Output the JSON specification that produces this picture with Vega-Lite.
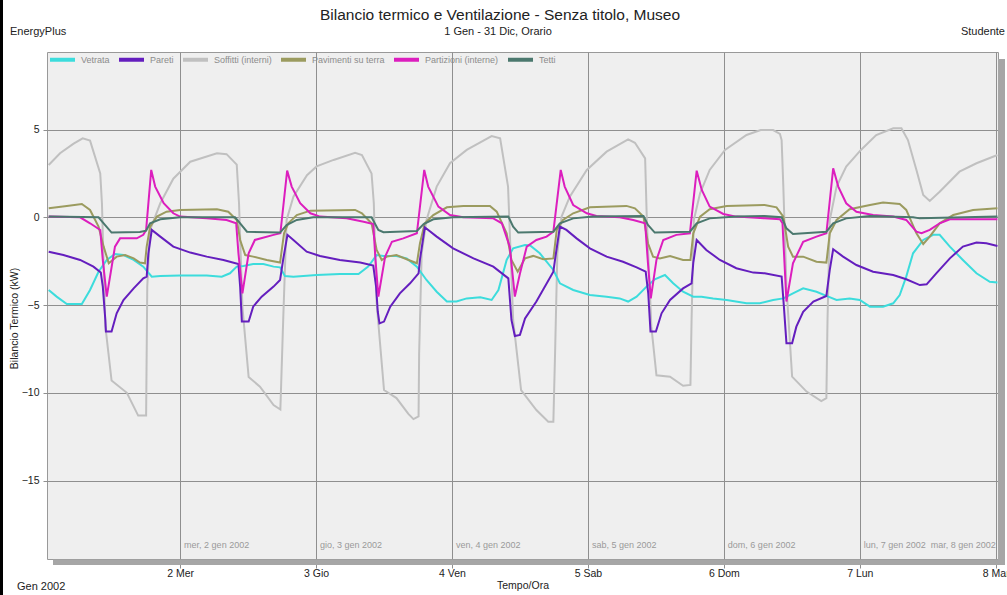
{
"$schema": "https://vega.github.io/schema/vega-lite/v6.json",
"width": 951,
"height": 507,
"autosize": {"type": "none"},
"padding": {"left": 47, "top": 52, "right": 9, "bottom": 36},
"background": "white",
"config": {
  "font": "Liberation Sans",
  "view": {"fill": "#efefef", "stroke": "#999999", "strokeWidth": 1}
},
"datasets": {
"lines": [
{"s":"Soffitti (interni)","h":0.8,"v":2.98},{"s":"Soffitti (interni)","h":2.8,"v":3.65},{"s":"Soffitti (interni)","h":5.2,"v":4.2},{"s":"Soffitti (interni)","h":6.8,"v":4.5},{"s":"Soffitti (interni)","h":8.1,"v":4.37},{"s":"Soffitti (interni)","h":9.9,"v":2.5},{"s":"Soffitti (interni)","h":10.2,"v":0.8},{"s":"Soffitti (interni)","h":10.8,"v":-6.2},{"s":"Soffitti (interni)","h":11.9,"v":-9.3},{"s":"Soffitti (interni)","h":14.6,"v":-10.0},{"s":"Soffitti (interni)","h":16.6,"v":-11.3},{"s":"Soffitti (interni)","h":18.0,"v":-11.3},{"s":"Soffitti (interni)","h":18.2,"v":-3.95},{"s":"Soffitti (interni)","h":18.7,"v":-0.72},{"s":"Soffitti (interni)","h":20.5,"v":0.8},{"s":"Soffitti (interni)","h":22.8,"v":2.2},{"s":"Soffitti (interni)","h":25.8,"v":3.17},{"s":"Soffitti (interni)","h":30.5,"v":3.65},{"s":"Soffitti (interni)","h":32.2,"v":3.6},{"s":"Soffitti (interni)","h":34.0,"v":3.0},{"s":"Soffitti (interni)","h":34.4,"v":0.8},{"s":"Soffitti (interni)","h":35.0,"v":-5.1},{"s":"Soffitti (interni)","h":36.1,"v":-9.1},{"s":"Soffitti (interni)","h":38.1,"v":-9.65},{"s":"Soffitti (interni)","h":40.5,"v":-10.7},{"s":"Soffitti (interni)","h":41.7,"v":-10.95},{"s":"Soffitti (interni)","h":42.2,"v":-5.85},{"s":"Soffitti (interni)","h":42.8,"v":-0.15},{"s":"Soffitti (interni)","h":44,"v":1.18},{"s":"Soffitti (interni)","h":46.4,"v":2.4},{"s":"Soffitti (interni)","h":48.1,"v":2.9},{"s":"Soffitti (interni)","h":51.1,"v":3.27},{"s":"Soffitti (interni)","h":54.9,"v":3.68},{"s":"Soffitti (interni)","h":56.1,"v":3.55},{"s":"Soffitti (interni)","h":57.8,"v":2.5},{"s":"Soffitti (interni)","h":58.2,"v":0.8},{"s":"Soffitti (interni)","h":58.7,"v":-4.9},{"s":"Soffitti (interni)","h":60,"v":-9.84},{"s":"Soffitti (interni)","h":62.2,"v":-10.3},{"s":"Soffitti (interni)","h":64.3,"v":-11.2},{"s":"Soffitti (interni)","h":65.2,"v":-11.5},{"s":"Soffitti (interni)","h":66.1,"v":-11.35},{"s":"Soffitti (interni)","h":66.2,"v":-7.75},{"s":"Soffitti (interni)","h":66.65,"v":-2.05},{"s":"Soffitti (interni)","h":67.5,"v":-0.15},{"s":"Soffitti (interni)","h":69.3,"v":1.75},{"s":"Soffitti (interni)","h":71.65,"v":3.08},{"s":"Soffitti (interni)","h":74.6,"v":3.84},{"s":"Soffitti (interni)","h":79,"v":4.63},{"s":"Soffitti (interni)","h":80.5,"v":4.5},{"s":"Soffitti (interni)","h":81.9,"v":1.75},{"s":"Soffitti (interni)","h":82.8,"v":-5.85},{"s":"Soffitti (interni)","h":84.2,"v":-9.84},{"s":"Soffitti (interni)","h":86.9,"v":-10.98},{"s":"Soffitti (interni)","h":89,"v":-11.65},{"s":"Soffitti (interni)","h":89.9,"v":-11.65},{"s":"Soffitti (interni)","h":90.2,"v":-7.75},{"s":"Soffitti (interni)","h":90.6,"v":-2.05},{"s":"Soffitti (interni)","h":91.35,"v":0.04},{"s":"Soffitti (interni)","h":92.8,"v":1.18},{"s":"Soffitti (interni)","h":95.8,"v":2.7},{"s":"Soffitti (interni)","h":99.3,"v":3.74},{"s":"Soffitti (interni)","h":103.1,"v":4.44},{"s":"Soffitti (interni)","h":104.3,"v":4.25},{"s":"Soffitti (interni)","h":106.1,"v":3.36},{"s":"Soffitti (interni)","h":106.4,"v":-0.15},{"s":"Soffitti (interni)","h":107.2,"v":-6.23},{"s":"Soffitti (interni)","h":108.1,"v":-9.0},{"s":"Soffitti (interni)","h":110.5,"v":-9.08},{"s":"Soffitti (interni)","h":112.8,"v":-9.6},{"s":"Soffitti (interni)","h":114.1,"v":-9.55},{"s":"Soffitti (interni)","h":114.3,"v":-5.85},{"s":"Soffitti (interni)","h":114.7,"v":-0.15},{"s":"Soffitti (interni)","h":115.8,"v":1.37},{"s":"Soffitti (interni)","h":117.5,"v":2.7},{"s":"Soffitti (interni)","h":120.2,"v":3.84},{"s":"Soffitti (interni)","h":124,"v":4.69},{"s":"Soffitti (interni)","h":126.5,"v":4.97},{"s":"Soffitti (interni)","h":128.7,"v":4.97},{"s":"Soffitti (interni)","h":129.9,"v":4.75},{"s":"Soffitti (interni)","h":130.2,"v":4.4},{"s":"Soffitti (interni)","h":130.5,"v":1.75},{"s":"Soffitti (interni)","h":131.05,"v":-3.95},{"s":"Soffitti (interni)","h":132.05,"v":-9.08},{"s":"Soffitti (interni)","h":134.6,"v":-9.93},{"s":"Soffitti (interni)","h":137.2,"v":-10.47},{"s":"Soffitti (interni)","h":138.1,"v":-10.3},{"s":"Soffitti (interni)","h":138.3,"v":-5.85},{"s":"Soffitti (interni)","h":138.7,"v":-0.15},{"s":"Soffitti (interni)","h":139.9,"v":1.75},{"s":"Soffitti (interni)","h":141.6,"v":2.89},{"s":"Soffitti (interni)","h":144.2,"v":3.84},{"s":"Soffitti (interni)","h":146.9,"v":4.69},{"s":"Soffitti (interni)","h":149.9,"v":5.07},{"s":"Soffitti (interni)","h":151.35,"v":5.07},{"s":"Soffitti (interni)","h":152.5,"v":4.4},{"s":"Soffitti (interni)","h":154,"v":2.7},{"s":"Soffitti (interni)","h":155.2,"v":1.27},{"s":"Soffitti (interni)","h":156.35,"v":0.93},{"s":"Soffitti (interni)","h":158.1,"v":1.46},{"s":"Soffitti (interni)","h":161.6,"v":2.6},{"s":"Soffitti (interni)","h":164.6,"v":3.08},{"s":"Soffitti (interni)","h":168.3,"v":3.55},

{"s":"Vetrata","h":0.8,"v":-4.14},{"s":"Vetrata","h":2.2,"v":-4.52},{"s":"Vetrata","h":4,"v":-4.94},{"s":"Vetrata","h":6.65,"v":-4.94},{"s":"Vetrata","h":8.1,"v":-4.14},{"s":"Vetrata","h":9.6,"v":-3.1},{"s":"Vetrata","h":11.05,"v":-2.43},{"s":"Vetrata","h":12.5,"v":-2.09},{"s":"Vetrata","h":14,"v":-2.15},{"s":"Vetrata","h":15.8,"v":-2.43},{"s":"Vetrata","h":17.5,"v":-2.81},{"s":"Vetrata","h":19,"v":-3.38},{"s":"Vetrata","h":20.5,"v":-3.34},{"s":"Vetrata","h":24,"v":-3.32},{"s":"Vetrata","h":28.7,"v":-3.32},{"s":"Vetrata","h":31.35,"v":-3.38},{"s":"Vetrata","h":32.8,"v":-3.19},{"s":"Vetrata","h":34,"v":-2.81},{"s":"Vetrata","h":35.2,"v":-2.77},{"s":"Vetrata","h":36.9,"v":-2.66},{"s":"Vetrata","h":38.7,"v":-2.66},{"s":"Vetrata","h":40.5,"v":-2.81},{"s":"Vetrata","h":41.65,"v":-2.85},{"s":"Vetrata","h":42.5,"v":-3.34},{"s":"Vetrata","h":44,"v":-3.38},{"s":"Vetrata","h":48.1,"v":-3.29},{"s":"Vetrata","h":52.2,"v":-3.23},{"s":"Vetrata","h":55.5,"v":-3.23},{"s":"Vetrata","h":57.2,"v":-2.81},{"s":"Vetrata","h":58.7,"v":-2.15},{"s":"Vetrata","h":59.9,"v":-2.2},{"s":"Vetrata","h":62.2,"v":-2.2},{"s":"Vetrata","h":64,"v":-2.34},{"s":"Vetrata","h":65.8,"v":-2.81},{"s":"Vetrata","h":67.5,"v":-3.57},{"s":"Vetrata","h":69.3,"v":-4.24},{"s":"Vetrata","h":71.1,"v":-4.8},{"s":"Vetrata","h":72.8,"v":-4.8},{"s":"Vetrata","h":74.6,"v":-4.62},{"s":"Vetrata","h":77,"v":-4.56},{"s":"Vetrata","h":79,"v":-4.71},{"s":"Vetrata","h":80.2,"v":-4.14},{"s":"Vetrata","h":81.65,"v":-2.43},{"s":"Vetrata","h":82.8,"v":-1.77},{"s":"Vetrata","h":84.9,"v":-1.58},{"s":"Vetrata","h":85.8,"v":-1.6},{"s":"Vetrata","h":87.5,"v":-2.05},{"s":"Vetrata","h":89.9,"v":-3.0},{"s":"Vetrata","h":91.05,"v":-3.76},{"s":"Vetrata","h":93.4,"v":-4.14},{"s":"Vetrata","h":96.35,"v":-4.43},{"s":"Vetrata","h":99.3,"v":-4.52},{"s":"Vetrata","h":101.6,"v":-4.62},{"s":"Vetrata","h":103.1,"v":-4.8},{"s":"Vetrata","h":104.6,"v":-4.52},{"s":"Vetrata","h":106.35,"v":-3.95},{"s":"Vetrata","h":107.8,"v":-3.53},{"s":"Vetrata","h":109.6,"v":-3.29},{"s":"Vetrata","h":111.05,"v":-3.76},{"s":"Vetrata","h":112.8,"v":-4.24},{"s":"Vetrata","h":114.6,"v":-4.52},{"s":"Vetrata","h":116.05,"v":-4.52},{"s":"Vetrata","h":118.1,"v":-4.62},{"s":"Vetrata","h":120.5,"v":-4.71},{"s":"Vetrata","h":124,"v":-4.9},{"s":"Vetrata","h":126.35,"v":-4.9},{"s":"Vetrata","h":128.7,"v":-4.71},{"s":"Vetrata","h":130.5,"v":-4.62},{"s":"Vetrata","h":132.2,"v":-4.33},{"s":"Vetrata","h":134,"v":-4.05},{"s":"Vetrata","h":136.35,"v":-4.24},{"s":"Vetrata","h":138.1,"v":-4.48},{"s":"Vetrata","h":139.9,"v":-4.71},{"s":"Vetrata","h":142.2,"v":-4.62},{"s":"Vetrata","h":144,"v":-4.71},{"s":"Vetrata","h":145.8,"v":-5.09},{"s":"Vetrata","h":148.1,"v":-5.09},{"s":"Vetrata","h":149.9,"v":-4.9},{"s":"Vetrata","h":151.05,"v":-4.43},{"s":"Vetrata","h":152.2,"v":-3.38},{"s":"Vetrata","h":153.4,"v":-2.05},{"s":"Vetrata","h":155.2,"v":-1.29},{"s":"Vetrata","h":156.95,"v":-1.0},{"s":"Vetrata","h":158.1,"v":-1.0},{"s":"Vetrata","h":159.9,"v":-1.67},{"s":"Vetrata","h":162.2,"v":-2.43},{"s":"Vetrata","h":164.6,"v":-3.19},{"s":"Vetrata","h":166.95,"v":-3.67},{"s":"Vetrata","h":168.3,"v":-3.72},

{"s":"Pavimenti su terra","h":0.8,"v":0.51},{"s":"Pavimenti su terra","h":4,"v":0.65},{"s":"Pavimenti su terra","h":6.65,"v":0.76},{"s":"Pavimenti su terra","h":8.1,"v":0.42},{"s":"Pavimenti su terra","h":9.6,"v":-0.53},{"s":"Pavimenti su terra","h":10.5,"v":-1.67},{"s":"Pavimenti su terra","h":11.4,"v":-2.62},{"s":"Pavimenti su terra","h":12.8,"v":-2.24},{"s":"Pavimenti su terra","h":14.3,"v":-2.15},{"s":"Pavimenti su terra","h":15.8,"v":-2.34},{"s":"Pavimenti su terra","h":16.9,"v":-2.58},{"s":"Pavimenti su terra","h":17.8,"v":-2.62},{"s":"Pavimenti su terra","h":18.1,"v":-1.67},{"s":"Pavimenti su terra","h":18.7,"v":-0.53},{"s":"Pavimenti su terra","h":19.9,"v":0.04},{"s":"Pavimenti su terra","h":21.6,"v":0.32},{"s":"Pavimenti su terra","h":24,"v":0.42},{"s":"Pavimenti su terra","h":30.5,"v":0.46},{"s":"Pavimenti su terra","h":32.5,"v":0.32},{"s":"Pavimenti su terra","h":34,"v":-0.15},{"s":"Pavimenti su terra","h":34.6,"v":-1.29},{"s":"Pavimenti su terra","h":35.5,"v":-2.15},{"s":"Pavimenti su terra","h":36.9,"v":-2.24},{"s":"Pavimenti su terra","h":39.3,"v":-2.43},{"s":"Pavimenti su terra","h":41.65,"v":-2.58},{"s":"Pavimenti su terra","h":42.35,"v":-0.91},{"s":"Pavimenti su terra","h":43.1,"v":-0.34},{"s":"Pavimenti su terra","h":44.6,"v":0.13},{"s":"Pavimenti su terra","h":47,"v":0.38},{"s":"Pavimenti su terra","h":54.9,"v":0.42},{"s":"Pavimenti su terra","h":56.1,"v":0.23},{"s":"Pavimenti su terra","h":57.8,"v":-0.34},{"s":"Pavimenti su terra","h":58.7,"v":-1.86},{"s":"Pavimenti su terra","h":59.6,"v":-2.43},{"s":"Pavimenti su terra","h":60.5,"v":-2.24},{"s":"Pavimenti su terra","h":62.2,"v":-2.15},{"s":"Pavimenti su terra","h":64,"v":-2.39},{"s":"Pavimenti su terra","h":65.8,"v":-2.62},{"s":"Pavimenti su terra","h":66.35,"v":-1.48},{"s":"Pavimenti su terra","h":67.2,"v":-0.34},{"s":"Pavimenti su terra","h":68.7,"v":0.13},{"s":"Pavimenti su terra","h":71.1,"v":0.57},{"s":"Pavimenti su terra","h":74,"v":0.65},{"s":"Pavimenti su terra","h":78.7,"v":0.65},{"s":"Pavimenti su terra","h":79.9,"v":0.32},{"s":"Pavimenti su terra","h":81.65,"v":-0.91},{"s":"Pavimenti su terra","h":82.5,"v":-2.43},{"s":"Pavimenti su terra","h":83.6,"v":-3.1},{"s":"Pavimenti su terra","h":84.9,"v":-2.34},{"s":"Pavimenti su terra","h":86.35,"v":-2.2},{"s":"Pavimenti su terra","h":88.1,"v":-2.39},{"s":"Pavimenti su terra","h":89.9,"v":-2.34},{"s":"Pavimenti su terra","h":90.5,"v":-0.72},{"s":"Pavimenti su terra","h":91.6,"v":-0.15},{"s":"Pavimenti su terra","h":93.4,"v":0.23},{"s":"Pavimenti su terra","h":96.35,"v":0.57},{"s":"Pavimenti su terra","h":102.8,"v":0.65},{"s":"Pavimenti su terra","h":104.3,"v":0.51},{"s":"Pavimenti su terra","h":105.8,"v":0.04},{"s":"Pavimenti su terra","h":106.6,"v":-1.48},{"s":"Pavimenti su terra","h":107.5,"v":-2.24},{"s":"Pavimenti su terra","h":108.7,"v":-2.34},{"s":"Pavimenti su terra","h":110.5,"v":-2.2},{"s":"Pavimenti su terra","h":112.8,"v":-2.43},{"s":"Pavimenti su terra","h":114.1,"v":-2.43},{"s":"Pavimenti su terra","h":114.6,"v":-0.91},{"s":"Pavimenti su terra","h":115.8,"v":0.04},{"s":"Pavimenti su terra","h":117.5,"v":0.46},{"s":"Pavimenti su terra","h":120.5,"v":0.65},{"s":"Pavimenti su terra","h":127.2,"v":0.7},{"s":"Pavimenti su terra","h":129.3,"v":0.57},{"s":"Pavimenti su terra","h":130.5,"v":0.04},{"s":"Pavimenti su terra","h":131.35,"v":-1.67},{"s":"Pavimenti su terra","h":132.2,"v":-2.24},{"s":"Pavimenti su terra","h":134,"v":-2.24},{"s":"Pavimenti su terra","h":136.35,"v":-2.53},{"s":"Pavimenti su terra","h":138.1,"v":-2.58},{"s":"Pavimenti su terra","h":138.7,"v":-0.91},{"s":"Pavimenti su terra","h":139.9,"v":-0.15},{"s":"Pavimenti su terra","h":142.2,"v":0.46},{"s":"Pavimenti su terra","h":145.8,"v":0.7},{"s":"Pavimenti su terra","h":148.1,"v":0.84},{"s":"Pavimenti su terra","h":151.05,"v":0.76},{"s":"Pavimenti su terra","h":152.2,"v":0.42},{"s":"Pavimenti su terra","h":154,"v":-0.91},{"s":"Pavimenti su terra","h":155.2,"v":-1.52},{"s":"Pavimenti su terra","h":156.35,"v":-1.1},{"s":"Pavimenti su terra","h":158.1,"v":-0.34},{"s":"Pavimenti su terra","h":160.5,"v":0.13},{"s":"Pavimenti su terra","h":164,"v":0.42},{"s":"Pavimenti su terra","h":168.3,"v":0.51},

{"s":"Pareti","h":0.8,"v":-1.96},{"s":"Pareti","h":3.4,"v":-2.15},{"s":"Pareti","h":6.35,"v":-2.43},{"s":"Pareti","h":8.7,"v":-2.81},{"s":"Pareti","h":10,"v":-3.15},{"s":"Pareti","h":10.35,"v":-3.95},{"s":"Pareti","h":10.8,"v":-5.85},{"s":"Pareti","h":10.9,"v":-6.51},{"s":"Pareti","h":11.9,"v":-6.51},{"s":"Pareti","h":12.8,"v":-5.47},{"s":"Pareti","h":14,"v":-4.71},{"s":"Pareti","h":15.8,"v":-4.05},{"s":"Pareti","h":17.5,"v":-3.48},{"s":"Pareti","h":18.1,"v":-3.38},{"s":"Pareti","h":18.4,"v":-2.05},{"s":"Pareti","h":19,"v":-0.72},{"s":"Pareti","h":20.5,"v":-1.1},{"s":"Pareti","h":22.8,"v":-1.67},{"s":"Pareti","h":25.8,"v":-2.01},{"s":"Pareti","h":28.7,"v":-2.24},{"s":"Pareti","h":31.65,"v":-2.43},{"s":"Pareti","h":34.3,"v":-2.66},{"s":"Pareti","h":34.6,"v":-3.95},{"s":"Pareti","h":34.9,"v":-5.94},{"s":"Pareti","h":36.1,"v":-5.94},{"s":"Pareti","h":36.9,"v":-5.09},{"s":"Pareti","h":38.4,"v":-4.52},{"s":"Pareti","h":40.5,"v":-3.95},{"s":"Pareti","h":41.65,"v":-3.57},{"s":"Pareti","h":42.2,"v":-2.4},{"s":"Pareti","h":42.95,"v":-1.0},{"s":"Pareti","h":44,"v":-1.29},{"s":"Pareti","h":46.35,"v":-1.96},{"s":"Pareti","h":48.7,"v":-2.2},{"s":"Pareti","h":52.2,"v":-2.43},{"s":"Pareti","h":55.8,"v":-2.58},{"s":"Pareti","h":58.1,"v":-2.75},{"s":"Pareti","h":58.6,"v":-3.95},{"s":"Pareti","h":58.9,"v":-5.38},{"s":"Pareti","h":59.2,"v":-6.04},{"s":"Pareti","h":60,"v":-5.94},{"s":"Pareti","h":61.1,"v":-5.09},{"s":"Pareti","h":62.8,"v":-4.33},{"s":"Pareti","h":64.6,"v":-3.76},{"s":"Pareti","h":66.1,"v":-3.19},{"s":"Pareti","h":66.35,"v":-2.4},{"s":"Pareti","h":67.2,"v":-0.57},{"s":"Pareti","h":69.3,"v":-1.1},{"s":"Pareti","h":72.2,"v":-1.77},{"s":"Pareti","h":75.8,"v":-2.34},{"s":"Pareti","h":79.3,"v":-2.81},{"s":"Pareti","h":81.95,"v":-3.48},{"s":"Pareti","h":82.5,"v":-5.85},{"s":"Pareti","h":83.1,"v":-6.76},{"s":"Pareti","h":84,"v":-6.7},{"s":"Pareti","h":84.9,"v":-5.76},{"s":"Pareti","h":86.9,"v":-4.8},{"s":"Pareti","h":89.9,"v":-3.1},{"s":"Pareti","h":90.2,"v":-2.4},{"s":"Pareti","h":91.05,"v":-0.53},{"s":"Pareti","h":92.2,"v":-0.72},{"s":"Pareti","h":94,"v":-1.2},{"s":"Pareti","h":96.35,"v":-1.77},{"s":"Pareti","h":99.3,"v":-2.24},{"s":"Pareti","h":102.2,"v":-2.53},{"s":"Pareti","h":104.6,"v":-2.85},{"s":"Pareti","h":106.2,"v":-3.1},{"s":"Pareti","h":106.65,"v":-4.33},{"s":"Pareti","h":107.05,"v":-6.51},{"s":"Pareti","h":108,"v":-6.51},{"s":"Pareti","h":109,"v":-5.47},{"s":"Pareti","h":110.5,"v":-4.71},{"s":"Pareti","h":112.8,"v":-4.05},{"s":"Pareti","h":114.3,"v":-3.76},{"s":"Pareti","h":114.6,"v":-2.6},{"s":"Pareti","h":115.2,"v":-1.29},{"s":"Pareti","h":116.9,"v":-1.86},{"s":"Pareti","h":119.3,"v":-2.43},{"s":"Pareti","h":122.2,"v":-2.9},{"s":"Pareti","h":125.2,"v":-3.15},{"s":"Pareti","h":127.2,"v":-3.19},{"s":"Pareti","h":130.2,"v":-3.38},{"s":"Pareti","h":130.6,"v":-5.09},{"s":"Pareti","h":131.05,"v":-7.18},{"s":"Pareti","h":132.05,"v":-7.18},{"s":"Pareti","h":132.8,"v":-6.23},{"s":"Pareti","h":134,"v":-5.38},{"s":"Pareti","h":135.8,"v":-4.8},{"s":"Pareti","h":138.1,"v":-4.48},{"s":"Pareti","h":138.7,"v":-3.0},{"s":"Pareti","h":139.3,"v":-1.82},{"s":"Pareti","h":141.05,"v":-2.24},{"s":"Pareti","h":143.4,"v":-2.72},{"s":"Pareti","h":146.35,"v":-3.1},{"s":"Pareti","h":149.9,"v":-3.29},{"s":"Pareti","h":152.2,"v":-3.53},{"s":"Pareti","h":154.6,"v":-3.86},{"s":"Pareti","h":155.8,"v":-3.82},{"s":"Pareti","h":157.5,"v":-3.19},{"s":"Pareti","h":159.9,"v":-2.34},{"s":"Pareti","h":162.2,"v":-1.67},{"s":"Pareti","h":164.6,"v":-1.44},{"s":"Pareti","h":166.35,"v":-1.48},{"s":"Pareti","h":168.3,"v":-1.63},

{"s":"Partizioni (interne)","h":0.8,"v":0.04},{"s":"Partizioni (interne)","h":6.35,"v":0},{"s":"Partizioni (interne)","h":8.1,"v":-0.34},{"s":"Partizioni (interne)","h":9.9,"v":-0.72},{"s":"Partizioni (interne)","h":10.35,"v":-2.43},{"s":"Partizioni (interne)","h":11.05,"v":-4.52},{"s":"Partizioni (interne)","h":12.5,"v":-1.67},{"s":"Partizioni (interne)","h":13.4,"v":-1.2},{"s":"Partizioni (interne)","h":16.35,"v":-1.2},{"s":"Partizioni (interne)","h":17.5,"v":-1.0},{"s":"Partizioni (interne)","h":18.0,"v":-0.72},{"s":"Partizioni (interne)","h":18.9,"v":2.7},{"s":"Partizioni (interne)","h":19.6,"v":1.75},{"s":"Partizioni (interne)","h":21.1,"v":0.8},{"s":"Partizioni (interne)","h":22.8,"v":0.23},{"s":"Partizioni (interne)","h":24,"v":0.04},{"s":"Partizioni (interne)","h":28.7,"v":-0.06},{"s":"Partizioni (interne)","h":32.2,"v":-0.15},{"s":"Partizioni (interne)","h":33.9,"v":-0.34},{"s":"Partizioni (interne)","h":34.3,"v":-2.05},{"s":"Partizioni (interne)","h":35.0,"v":-4.33},{"s":"Partizioni (interne)","h":36.1,"v":-2.05},{"s":"Partizioni (interne)","h":37.2,"v":-1.29},{"s":"Partizioni (interne)","h":40.5,"v":-1.0},{"s":"Partizioni (interne)","h":41.7,"v":-0.91},{"s":"Partizioni (interne)","h":42.9,"v":2.66},{"s":"Partizioni (interne)","h":43.7,"v":1.75},{"s":"Partizioni (interne)","h":45.2,"v":0.8},{"s":"Partizioni (interne)","h":47,"v":0.23},{"s":"Partizioni (interne)","h":48.7,"v":0.04},{"s":"Partizioni (interne)","h":53.4,"v":-0.06},{"s":"Partizioni (interne)","h":56.4,"v":-0.25},{"s":"Partizioni (interne)","h":58.1,"v":-0.38},{"s":"Partizioni (interne)","h":58.5,"v":-2.43},{"s":"Partizioni (interne)","h":59,"v":-4.52},{"s":"Partizioni (interne)","h":60.2,"v":-2.24},{"s":"Partizioni (interne)","h":61.4,"v":-1.39},{"s":"Partizioni (interne)","h":63.4,"v":-1.2},{"s":"Partizioni (interne)","h":65.8,"v":-0.91},{"s":"Partizioni (interne)","h":67.1,"v":2.7},{"s":"Partizioni (interne)","h":67.8,"v":1.75},{"s":"Partizioni (interne)","h":69.6,"v":0.61},{"s":"Partizioni (interne)","h":71.65,"v":0.13},{"s":"Partizioni (interne)","h":74,"v":0},{"s":"Partizioni (interne)","h":79.3,"v":-0.06},{"s":"Partizioni (interne)","h":80.8,"v":-0.34},{"s":"Partizioni (interne)","h":82.2,"v":-1.67},{"s":"Partizioni (interne)","h":83.1,"v":-4.52},{"s":"Partizioni (interne)","h":84,"v":-3.2},{"s":"Partizioni (interne)","h":85.2,"v":-1.67},{"s":"Partizioni (interne)","h":86.9,"v":-1.29},{"s":"Partizioni (interne)","h":88.7,"v":-1.1},{"s":"Partizioni (interne)","h":89.9,"v":-0.82},{"s":"Partizioni (interne)","h":91.2,"v":2.7},{"s":"Partizioni (interne)","h":91.9,"v":1.75},{"s":"Partizioni (interne)","h":93.4,"v":0.7},{"s":"Partizioni (interne)","h":95.8,"v":0.23},{"s":"Partizioni (interne)","h":97.5,"v":0.08},{"s":"Partizioni (interne)","h":101.6,"v":0},{"s":"Partizioni (interne)","h":104,"v":-0.15},{"s":"Partizioni (interne)","h":106.1,"v":-0.34},{"s":"Partizioni (interne)","h":106.6,"v":-2.62},{"s":"Partizioni (interne)","h":107.1,"v":-4.62},{"s":"Partizioni (interne)","h":108.1,"v":-2.43},{"s":"Partizioni (interne)","h":109.3,"v":-1.29},{"s":"Partizioni (interne)","h":111.6,"v":-1.0},{"s":"Partizioni (interne)","h":114,"v":-0.91},{"s":"Partizioni (interne)","h":115.2,"v":2.66},{"s":"Partizioni (interne)","h":116.1,"v":1.56},{"s":"Partizioni (interne)","h":117.5,"v":0.61},{"s":"Partizioni (interne)","h":119.9,"v":0.19},{"s":"Partizioni (interne)","h":122.2,"v":0.04},{"s":"Partizioni (interne)","h":127.2,"v":-0.06},{"s":"Partizioni (interne)","h":129.9,"v":-0.11},{"s":"Partizioni (interne)","h":130.35,"v":-0.34},{"s":"Partizioni (interne)","h":131.05,"v":-4.8},{"s":"Partizioni (interne)","h":132.2,"v":-2.62},{"s":"Partizioni (interne)","h":134,"v":-1.39},{"s":"Partizioni (interne)","h":136.35,"v":-1.1},{"s":"Partizioni (interne)","h":138.1,"v":-0.91},{"s":"Partizioni (interne)","h":139.3,"v":2.79},{"s":"Partizioni (interne)","h":140.2,"v":1.75},{"s":"Partizioni (interne)","h":141.6,"v":0.8},{"s":"Partizioni (interne)","h":143.4,"v":0.32},{"s":"Partizioni (interne)","h":146.35,"v":0.13},{"s":"Partizioni (interne)","h":149.9,"v":0.04},{"s":"Partizioni (interne)","h":152.2,"v":-0.15},{"s":"Partizioni (interne)","h":154,"v":-0.82},{"s":"Partizioni (interne)","h":154.9,"v":-0.91},{"s":"Partizioni (interne)","h":156.35,"v":-0.72},{"s":"Partizioni (interne)","h":158.1,"v":-0.34},{"s":"Partizioni (interne)","h":159.9,"v":-0.11},{"s":"Partizioni (interne)","h":168.3,"v":-0.11},

{"s":"Tetti","h":0.8,"v":0.04},{"s":"Tetti","h":9.6,"v":0},{"s":"Tetti","h":10.5,"v":-0.34},{"s":"Tetti","h":11.9,"v":-0.87},{"s":"Tetti","h":16.9,"v":-0.84},{"s":"Tetti","h":18,"v":-0.76},{"s":"Tetti","h":18.7,"v":-0.34},{"s":"Tetti","h":20.5,"v":-0.11},{"s":"Tetti","h":24,"v":0},{"s":"Tetti","h":33.7,"v":0},{"s":"Tetti","h":34.6,"v":-0.34},{"s":"Tetti","h":35.8,"v":-0.82},{"s":"Tetti","h":41.65,"v":-0.87},{"s":"Tetti","h":42.8,"v":-0.44},{"s":"Tetti","h":44.6,"v":-0.15},{"s":"Tetti","h":47.5,"v":0},{"s":"Tetti","h":57.8,"v":0},{"s":"Tetti","h":59,"v":-0.72},{"s":"Tetti","h":59.9,"v":-0.85},{"s":"Tetti","h":65.8,"v":-0.78},{"s":"Tetti","h":67,"v":-0.38},{"s":"Tetti","h":68.7,"v":-0.11},{"s":"Tetti","h":72.2,"v":0},{"s":"Tetti","h":81.95,"v":0.04},{"s":"Tetti","h":82.8,"v":-0.53},{"s":"Tetti","h":83.7,"v":-0.87},{"s":"Tetti","h":89.9,"v":-0.82},{"s":"Tetti","h":91.05,"v":-0.34},{"s":"Tetti","h":93.4,"v":-0.06},{"s":"Tetti","h":96.9,"v":0.04},{"s":"Tetti","h":105.8,"v":0.08},{"s":"Tetti","h":106.6,"v":-0.44},{"s":"Tetti","h":107.8,"v":-0.87},{"s":"Tetti","h":114,"v":-0.82},{"s":"Tetti","h":115.2,"v":-0.34},{"s":"Tetti","h":117.5,"v":-0.06},{"s":"Tetti","h":122.2,"v":0.04},{"s":"Tetti","h":127.2,"v":0.08},{"s":"Tetti","h":130.2,"v":0},{"s":"Tetti","h":131.05,"v":-0.63},{"s":"Tetti","h":132.2,"v":-0.95},{"s":"Tetti","h":138.1,"v":-0.82},{"s":"Tetti","h":139.3,"v":-0.34},{"s":"Tetti","h":141.6,"v":-0.06},{"s":"Tetti","h":145.8,"v":0.08},{"s":"Tetti","h":153.4,"v":0},{"s":"Tetti","h":154.6,"v":-0.06},{"s":"Tetti","h":168.3,"v":0.04}
],
"days": [
{"h":24,"t":"mer, 2 gen 2002"},{"h":48,"t":"gio, 3 gen 2002"},{"h":72,"t":"ven, 4 gen 2002"},{"h":96,"t":"sab, 5 gen 2002"},{"h":120,"t":"dom, 6 gen 2002"},{"h":144,"t":"lun, 7 gen 2002"}
],
"lastday": [{"h":168,"t":"mar, 8 gen 2002"}]
},
"layer": [
{
  "data": {"values": [{}]},
  "mark": {"type": "rect", "fill": "#a6a6a6"},
  "encoding": {"x": {"value": 951}, "x2": {"value": 958}, "y": {"value": 7}, "y2": {"value": 513}}
},
{
  "data": {"values": [{}]},
  "mark": {"type": "rect", "fill": "#a6a6a6"},
  "encoding": {"x": {"value": 6}, "x2": {"value": 958}, "y": {"value": 507.5}, "y2": {"value": 513}}
},
{
  "data": {"values": [{}]},
  "mark": {"type": "rect", "fill": "#000000"},
  "encoding": {"x": {"value": -47}, "x2": {"value": -44}, "y": {"value": -52}, "y2": {"value": 543}}
},
{
  "data": {"name": "lines"},
  "mark": {"type": "line", "strokeWidth": 2, "interpolate": "linear"},
  "encoding": {
    "x": {"field": "h", "type": "quantitative",
      "scale": {"domain": [0.5, 168.4], "nice": false, "zero": false},
      "axis": {"values": [24, 48, 72, 96, 120, 144, 168],
        "labelExpr": "['','2 Mer','3 Gio','4 Ven','5 Sab','6 Dom','7 Lun','8 Mar'][round(datum.value/24)]",
        "title": "Tempo/Ora", "grid": true, "gridColor": "#8f8f8f", "gridWidth": 1,
        "domain": false, "ticks": true, "tickSize": 9, "tickColor": "#8f8f8f",
        "labelPadding": 0, "labelFontSize": 10.5, "labelColor": "#222222", "labelFlush": false, "labelOverlap": false,
        "titleFontSize": 10.5, "titleFontWeight": "normal", "titleColor": "#222222", "titlePadding": 2}},
    "y": {"field": "v", "type": "quantitative",
      "scale": {"domain": [-19.47, 9.42], "nice": false, "zero": false},
      "axis": {"values": [-15, -10, -5, 0, 5],
        "title": "Bilancio Termico (kW)", "grid": true, "gridColor": "#8f8f8f", "gridWidth": 1,
        "domain": false, "tickSize": 4, "tickColor": "#8f8f8f", "labelPadding": 4,
        "labelFontSize": 10.5, "labelColor": "#222222",
        "titleFontSize": 10.5, "titleFontWeight": "normal", "titleColor": "#222222",
        "titleX": -33, "titleY": 266, "titleBaseline": "middle", "titleAngle": 270, "titleAlign": "center"}},
    "color": {"field": "s", "type": "nominal",
      "scale": {"domain": ["Vetrata", "Pareti", "Soffitti (interni)", "Pavimenti su terra", "Partizioni (interne)", "Tetti"],
                "range": ["#3cdcdc", "#641ebe", "#c0c0c0", "#9b9b5f", "#dc1ebe", "#4b786e"]},
      "legend": {"title": null, "orient": "none", "legendX": 1, "legendY": -7, "direction": "horizontal",
        "symbolType": "stroke", "symbolSize": 625, "symbolStrokeWidth": 4,
        "labelFontSize": 9, "labelColor": "#8c8c8c", "labelOffset": 4, "columnPadding": 1, "padding": 0, "labelLimit": 200}}
  }
},
{
  "data": {"name": "days"},
  "mark": {"type": "text", "align": "left", "baseline": "middle", "dx": 4, "fontSize": 9, "color": "#9a9a9a"},
  "encoding": {"x": {"field": "h", "type": "quantitative"}, "y": {"datum": -18.7}, "text": {"field": "t"}}
},
{
  "data": {"name": "lastday"},
  "mark": {"type": "text", "align": "right", "baseline": "middle", "dx": 0, "fontSize": 9, "color": "#9a9a9a"},
  "encoding": {"x": {"field": "h", "type": "quantitative"}, "y": {"datum": -18.7}, "text": {"field": "t"}}
},
{
  "data": {"values": [{}]},
  "mark": {"type": "text", "text": "Bilancio termico e Ventilazione - Senza titolo, Museo", "fontSize": 15.5, "color": "#222222", "align": "center", "baseline": "middle"},
  "encoding": {"x": {"value": 453}, "y": {"value": -37}}
},
{
  "data": {"values": [{}]},
  "mark": {"type": "text", "text": "1 Gen - 31 Dic, Orario", "fontSize": 11, "color": "#222222", "align": "center", "baseline": "middle"},
  "encoding": {"x": {"value": 451}, "y": {"value": -20}}
},
{
  "data": {"values": [{}]},
  "mark": {"type": "text", "text": "EnergyPlus", "fontSize": 11, "color": "#222222", "align": "left", "baseline": "middle"},
  "encoding": {"x": {"value": -37}, "y": {"value": -20}}
},
{
  "data": {"values": [{}]},
  "mark": {"type": "text", "text": "Studente", "fontSize": 11, "color": "#222222", "align": "right", "baseline": "middle"},
  "encoding": {"x": {"value": 958}, "y": {"value": -20}}
},
{
  "data": {"values": [{}]},
  "mark": {"type": "text", "text": "Gen 2002", "fontSize": 11, "color": "#222222", "align": "left", "baseline": "middle"},
  "encoding": {"x": {"value": -30}, "y": {"value": 535}}
}
]
}
